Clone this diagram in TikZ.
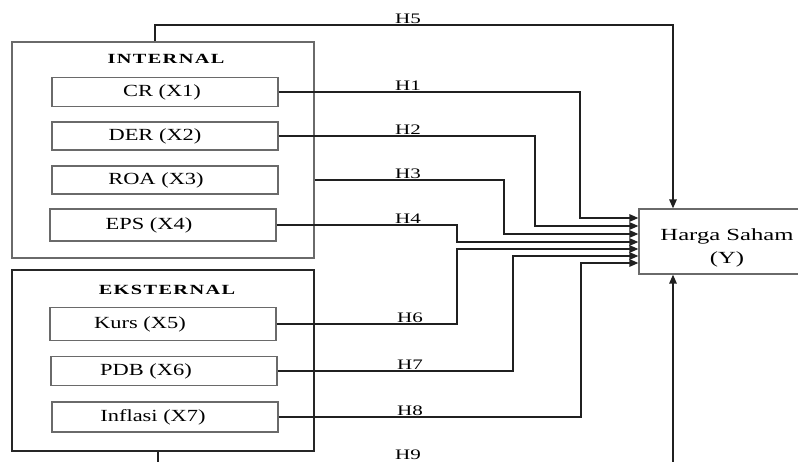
\documentclass[tikz,border=0pt]{standalone}
\usepackage{fontspec}
\setmainfont{Liberation Serif}[FakeStretch=1.45]
\newfontfamily\boxfont{Liberation Serif}[FakeStretch=1.32]
\newfontfamily\headfont{Liberation Serif}[FakeStretch=1.45,LetterSpace=10]
\usetikzlibrary{arrows.meta,positioning,calc}
\definecolor{boxline}{HTML}{6A6A6A}
\definecolor{wireline}{HTML}{202020}

\begin{document}
\begin{tikzpicture}[x=1pt,y=-1pt,font=\fontsize{17}{20}\selectfont,>={Triangle[length=9pt,width=7.5pt]},line join=miter]
\tikzset{
 groupbox/.style={draw=boxline,line width=1.7pt,inner sep=0pt},
 varbox/.style={draw=boxline,line width=1.3pt,inner sep=0pt,minimum width=226pt,
  font=\fontsize{17}{20}\selectfont\boxfont},
 wire/.style={draw=wireline,line width=1.5pt},
 hlab/.style={font=\fontsize{14.5}{16}\selectfont,anchor=south,inner sep=1pt},
 grouplab/.style={font=\fontsize{14}{16}\selectfont\headfont\bfseries}
}
\useasboundingbox (0,0) rectangle (798,462);
\clip (0,0) rectangle (798,462);
% Group frames and their titles.
\node[groupbox,minimum width=302pt,minimum height=216pt] (int) at (163,150) {};
\node[groupbox,draw=black!85,minimum width=302pt,minimum height=181pt] (ext) at (163,360.5) {};
\node[grouplab] (intlab) at (166,59) {INTERNAL};
\node[grouplab] (extlab) at (167,290) {EKSTERNAL};
% Variables; text sits a little left of the box centre.
\node[varbox,minimum height=29pt] (x1) at (165,92) {\hspace*{-6pt}CR (X1)};
\node[varbox,minimum height=28pt] (x2) at (165,136) {\hspace*{-20pt}DER (X2)};
\node[varbox,minimum height=28pt] (x3) at (165,180) {\hspace*{-18pt}ROA (X3)};
\node[varbox,minimum height=32pt] (x4) at (163,225) {\hspace*{-28pt}EPS (X4)};
\node[varbox,minimum height=33pt] (x5) at (163,324) {\hspace*{-46pt}Kurs (X5)};
\node[varbox,minimum height=29pt] (x6) at (164,371) {\hspace*{-36pt}PDB (X6)};
\node[varbox,minimum height=30pt] (x7) at (165,417) {\hspace*{-24pt}Inflasi (X7)};
% Dependent variable, cut by the right edge.
\node[draw=boxline,line width=1.3pt,minimum width=176pt,minimum height=65pt,align=center,
 font=\fontsize{17}{23}\selectfont] (price) at (727,241.5) {\rule{0pt}{25pt}Harga Saham\\(Y)};
% Hypothesis paths.
\draw[wire,->] (x1.east) -| (580,218) -- (price.west |- 0,218);
\draw[wire,->] (x2.east) -| (535,226) -- (price.west |- 0,226);
\draw[wire,->] (int.east |- x3) -| (504,234) -- (price.west |- 0,234);
\draw[wire,->] (x4.east) -| (457,242) -- (price.west |- 0,242);
\draw[wire,->] (x5.east) -| (457,249) -- (price.west |- 0,249);
\draw[wire,->] (x6.east) -| (513,256) -- (price.west |- 0,256);
\draw[wire,->] (x7.east) -| (581,263) -- (price.west |- 0,263);
\draw[wire,->] (int.north -| 155,0) -- (155,25) -| (price.north -| 673,0);
\draw[wire,->] (ext.south -| 158,0) -- (158,470) -| (price.south -| 673,0);
\node[hlab] (h5) at (408,25) {H5};
\node[hlab] (h1) at (408,92) {H1};
\node[hlab] (h2) at (408,136) {H2};
\node[hlab] (h3) at (408,180) {H3};
\node[hlab] (h4) at (408,225) {H4};
\node[hlab] (h6) at (410,324) {H6};
\node[hlab] (h7) at (410,371) {H7};
\node[hlab] (h8) at (410,417) {H8};
\node[hlab,anchor=center] (h9) at (408,455) {H9};
\end{tikzpicture}
\end{document}
